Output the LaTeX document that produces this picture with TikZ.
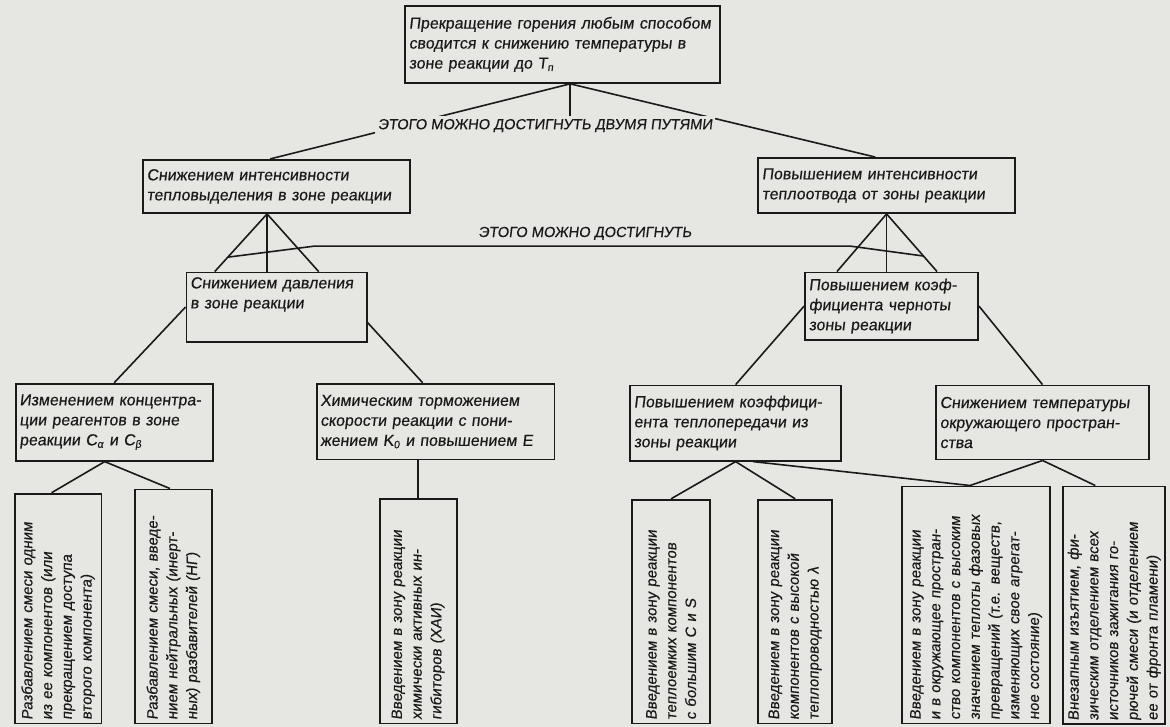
\documentclass[tikz,border=0pt]{standalone}
\usepackage{fontspec}
\setmainfont{Liberation Sans}[FakeSlant=0.12, FakeBold=0.4]
\usepackage{xcolor}
\usetikzlibrary{positioning,calc,backgrounds}
\definecolor{paper}{HTML}{E6E6E3}
\definecolor{ink}{HTML}{1A1A1A}

\begin{document}
\begin{tikzpicture}[
  box/.style={draw=ink, line width=1.4pt, align=left, inner sep=1mm,
              text=ink, font=\fontsize{12}{15}\selectfont},
  tallbox/.style={box, rotate=90, font=\fontsize{11.3}{14.8}\selectfont},
  pathnote/.style={fill=paper, inner sep=0.8mm, text=ink,
                   font=\fontsize{11}{13}\selectfont},
  conn/.style={draw=ink, line width=1.2pt}
]
\useasboundingbox (0,0) rectangle (308.4mm,-191.6mm);

\node[box, text width=81mm, minimum height=20.3mm] (top) at (148.3mm,-11.7mm)
  {Прекращение горения любым способом\\сводится к снижению температуры в\\зоне реакции до T\textsubscript{п}};
\node[pathnote, below=8.4mm of top, xshift=-4.6mm] (way2) {ЭТОГО МОЖНО ДОСТИГНУТЬ ДВУМЯ ПУТЯМИ};

\node[box, text width=68.4mm, minimum height=14mm, below=19.8mm of top, xshift=-75.4mm] (l1)
  {Снижением интенсивности\\тепловыделения в зоне реакции};
\node[box, text width=65.7mm, minimum height=14.5mm, below=19.3mm of top, xshift=85.4mm] (r1)
  {Повышением интенсивности\\теплоотвода от зоны реакции};
\node[pathnote, below=23.2mm of way2, xshift=10.5mm] (way) {ЭТОГО МОЖНО ДОСТИГНУТЬ};

\node[box, text width=45.5mm, minimum height=18.2mm, below=15.2mm of l1] (l2)
  {Снижением давления\\в зоне реакции\rule[-7.5mm]{0pt}{0pt}};
\node[box, text width=43.6mm, minimum height=17.7mm, below=15.2mm of r1, xshift=1.3mm] (r2)
  {Повышением коэф-\\фициента черноты\\зоны реакции};

\node[box, text width=49.9mm, minimum height=20.3mm, below=10.6mm of l2, xshift=-42.8mm] (l3a)
  {Изменением концентра-\\ции реагентов в зоне\\реакции C\textsubscript{α} и C\textsubscript{β}};
\node[box, text width=60.7mm, minimum height=20mm, below=10.6mm of l2, xshift=41.9mm] (l3b)
  {Химическим торможением\\скорости реакции с пони-\\жением K\textsubscript{0} и повышением E};
\node[box, text width=53.6mm, minimum height=19.8mm, below=11.6mm of r2, xshift=-41.1mm] (r3a)
  {Повышением коэффици-\\ента теплопередачи из\\зоны реакции};
\node[box, text width=54.1mm, minimum height=19.5mm, below=11.6mm of r2, xshift=39.8mm] (r3b)
  {Снижением температуры\\окружающего простран-\\ства};

\node[tallbox, text width=58.6mm, minimum height=22.9mm, below left=8.2mm and 14.8mm of l3a.south, anchor=east] (b1)
  {Разбавлением смеси одним\\из ее компонентов (или\\прекращением доступа\\второго компонента)};
\node[tallbox, text width=59.7mm, minimum height=20.3mm, below right=7.1mm and 15.6mm of l3a.south, anchor=east] (b2)
  {Разбавлением смеси, введе-\\нием нейтральных (инерт-\\ных) разбавителей (НГ)};
\node[tallbox, text width=57.3mm, minimum height=20.3mm, below left=9.8mm and 4.6mm of l3b.south, anchor=east] (b3)
  {Введением в зону реакции\\химически активных ин-\\гибиторов (ХАИ)};
\node[tallbox, text width=57mm, minimum height=20.6mm, below left=9.8mm and 17mm of r3a.south, anchor=east] (b4)
  {Введением в зону реакции\\теплоемких компонентов\\с большим C и S};
\node[tallbox, text width=57mm, minimum height=19.5mm, below right=9.8mm and 15.7mm of r3a.south, anchor=east] (b5)
  {Введением в зону реакции\\компонентов с высокой\\теплопроводностью λ};
\node[tallbox, text width=60.5mm, minimum height=39mm, below left=6.6mm and 17.5mm of r3b.south, anchor=east] (b6)
  {Введением в зону реакции\\и в окружающее простран-\\ство компонентов с высоким\\значением теплоты фазовых\\превращений (т.е. веществ,\\изменяющих свое агрегат-\\ное состояние)};
\node[tallbox, text width=60.7mm, minimum height=26.9mm, below right=6.6mm and 18.9mm of r3b.south, anchor=east] (b7)
  {Внезапным изъятием, фи-\\зическим отделением всех\\источников зажигания го-\\рючей смеси (и отделением\\ее от фронта пламени)};

\begin{scope}[on background layer]
\fill[paper] (0,0) rectangle (308.4mm,-191.6mm);
\coordinate (apex) at ([xshift=2mm]top.south);
\draw[conn] (apex) -- ([xshift=-1.7mm]l1.north);
\draw[conn] (apex) -- ([xshift=-3mm]r1.north);
\draw[conn] (apex) -- (apex |- way2.north);

\coordinate (lt) at ([xshift=-2.5mm]l1.south);
\coordinate (ll) at ([xshift=-16.3mm]l2.north);
\coordinate (lr) at ([xshift=11.1mm]l2.north);
\draw[conn] (lt) -- (ll);
\draw[conn] (lt) -- (lt |- l2.north);
\draw[conn] (lt) -- (lr);

\coordinate (rt) at (r1.south);
\coordinate (rl) at ([xshift=-14.4mm]r2.north);
\coordinate (rr) at ([xshift=12mm]r2.north);
\draw[conn] (rt) -- (rl);
\draw[conn] (rt) -- (rt |- r2.north);
\draw[conn] (rt) -- (rr);

\draw[conn] ($(lt)!0.75!(ll)$) -- ++(22.7mm,2.9mm) -- ++(141.5mm,0) -- ($(rt)!0.73!(rr)$);

\draw[conn] (l2.west) -- (l3a.north);
\draw[conn] ([yshift=-4.1mm]l2.east) -- ([xshift=-3.4mm]l3b.north);
\draw[conn] (r2.west) -- (r3a.north);
\draw[conn] (r2.east) -- (r3b.north);

\coordinate (la) at ([xshift=-2.5mm]l3a.south);
\draw[conn] (la) -- ([xshift=-1.7mm]b1.east);
\draw[conn] (la) -- ([xshift=-0.9mm]b2.east);
\draw[conn] (b3.east |- l3b.south) -- (b3.east);
\draw[conn] (r3a.south) -- (b4.east);
\draw[conn] (r3a.south) -- (b5.east);
\draw[conn] ([xshift=4.6mm]r3a.south) -- ([xshift=-1.6mm]b6.east);
\draw[conn] (r3b.south) -- ([xshift=-1.6mm]b6.east);
\draw[conn] (r3b.south) -- ([xshift=-5mm]b7.east);
\end{scope}
\end{tikzpicture}
\end{document}
